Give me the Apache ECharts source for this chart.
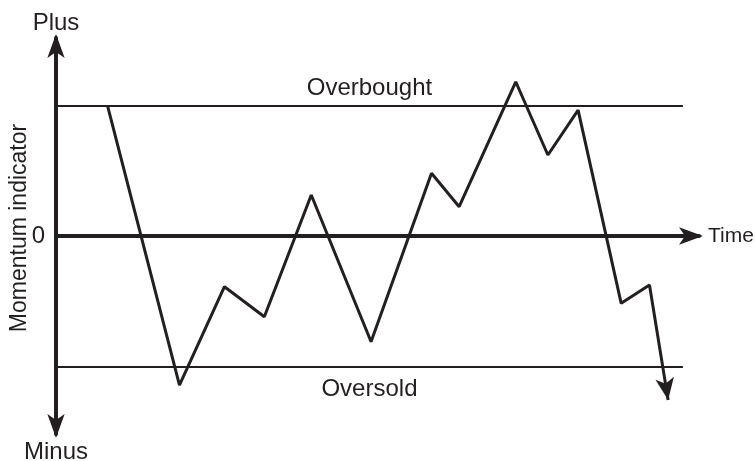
<!DOCTYPE html>
<html>
<head>
<meta charset="utf-8">
<script src="https://cdn.jsdelivr.net/npm/echarts@6/dist/echarts.min.js"></script>
<style>
  html, body { margin: 0; padding: 0; background: #fff; }
  #main { width: 756px; height: 461px; }
</style>
</head>
<body>
<div id="main"></div>
<script>
// time position (0..100) and momentum value (-100..100) of each turn of the line
var timeX = [8.0, 19.2, 26.2, 32.4, 39.7, 49.0, 58.4, 62.7, 71.5, 76.5, 81.2, 87.9, 92.3, 95.2];
var momentum = [66, -75.3, -25.6, -40.8, 20.7, -53.4, 31.7, 14.8, 77.9, 40.9, 63.6, -34.0, -24.7, -82.8];
var levelNames = ['Overbought', 'Oversold'];
var levelValues = [66, -66];
var levelEnd = 97.5; // where the two level lines stop on the time axis
var axisNames = { x: 'Time', top: 'Plus', bottom: 'Minus', y: 'Momentum indicator' };

var ink = '#231f20';
var font = 'Liberation Sans, Arial, Helvetica, sans-serif';

var lineData = [];
for (var i = 0; i < timeX.length; i++) {
	if (i == timeX.length - 1) {
		// last point gets the arrow head, turned to follow the last leg
		lineData.push({
			value: [timeX[i], momentum[i]],
			symbol: 'arrow',
			symbolSize: [14, 22],
			symbolRotate: 189,
			itemStyle: { color: ink }
		});
	} else {
		lineData.push({ value: [timeX[i], momentum[i]], symbol: 'none' });
	}
}

var levelLines = [];
for (var j = 0; j < levelValues.length; j++) {
	levelLines.push([
		{ coord: [0, levelValues[j]], name: levelNames[j] },
		{ coord: [levelEnd, levelValues[j]] }
	]);
}

var myChart = echarts.init(document.getElementById('main'), null, { renderer: 'canvas' });

var option = {
	animation: false,
	backgroundColor: '#ffffff',
	grid: { left: 56, right: 57, top: 38, bottom: 27, containLabel: false, outerBoundsMode: 'none' },
	xAxis: {
		type: 'value',
		min: 0,
		max: 100,
		name: axisNames.x,
		nameLocation: 'end',
		nameGap: 9,
		nameTextStyle: { color: ink, fontSize: 21, fontFamily: font, verticalAlign: 'middle' },
		axisLine: {
			show: true,
			onZero: true,
			symbol: ['none', 'arrow'],
			symbolSize: [13, 24],
			symbolOffset: [0, 4],
			lineStyle: { color: ink, width: 4 }
		},
		axisTick: { show: false },
		axisLabel: { show: false },
		splitLine: { show: false }
	},
	yAxis: [
		{
			type: 'value',
			min: -100,
			max: 100,
			interval: 100,
			name: axisNames.top,
			nameLocation: 'end',
			nameGap: 3,
			nameTextStyle: { color: ink, fontSize: 24, fontFamily: font },
			axisLine: {
				show: true,
				onZero: false,
				symbol: ['arrow', 'arrow'],
				symbolSize: [13, 24],
				symbolOffset: [-4, 4],
				lineStyle: { color: ink, width: 4 }
			},
			axisTick: { show: false },
			axisLabel: {
				show: true,
				margin: 11,
				color: ink,
				fontSize: 24,
				fontFamily: font,
				formatter: function (v) { return v === 0 ? '0' : ''; }
			},
			splitLine: { show: false }
		},
		{
			type: 'value',
			min: -100,
			max: 100,
			position: 'left',
			name: axisNames.bottom,
			nameLocation: 'start',
			nameGap: 6,
			nameTextStyle: { color: ink, fontSize: 24, fontFamily: font, verticalAlign: 'top' },
			axisLine: { show: false },
			axisTick: { show: false },
			axisLabel: { show: false },
			splitLine: { show: false }
		},
		{
			type: 'value',
			min: -100,
			max: 100,
			position: 'left',
			name: axisNames.y,
			nameLocation: 'middle',
			nameGap: 25,
			nameRotate: 90,
			nameTextStyle: { color: ink, fontSize: 23, fontFamily: font, padding: [0, 0, 0, 16] },
			axisLine: { show: false },
			axisTick: { show: false },
			axisLabel: { show: false },
			splitLine: { show: false }
		}
	],
	series: [
		{
			type: 'line',
			showSymbol: true,
			showAllSymbol: true,
			lineStyle: { color: ink, width: 3 },
			itemStyle: { color: ink },
			data: lineData,
			markLine: {
				silent: true,
				symbol: ['none', 'none'],
				lineStyle: { color: ink, width: 2, type: 'solid' },
				label: {
					show: true,
					formatter: '{b}',
					color: ink,
					fontSize: 24,
					fontFamily: font
				},
				data: levelLines
			}
		}
	]
};

// label sides: one above its line, one below
option.series[0].markLine.data[0][0].label = { position: 'insideMiddleTop', distance: 5 };
option.series[0].markLine.data[1][0].label = { position: 'insideMiddleBottom', distance: 11 };

myChart.setOption(option);
</script>
</body>
</html>
